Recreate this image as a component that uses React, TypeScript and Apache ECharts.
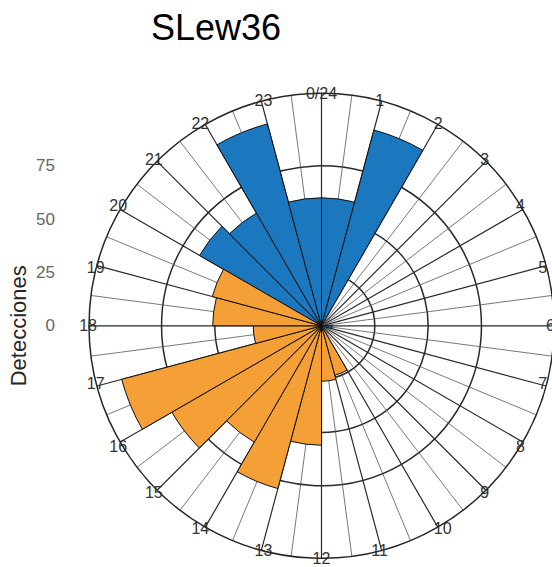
import React, { useEffect, useRef } from 'react';
import * as echarts from 'echarts';

// Hour bins (clockwise from the top), one per hour of the day
const hourCategories = ['0', '1', '2', '3', '4', '5', '6', '7', '8', '9', '10', '11',
  '12', '13', '14', '15', '16', '17', '18', '19', '20', '21', '22', '23'];

// Angle tick labels (at the hour boundaries)
const angleTickLabels = ['0/24', '1', '2', '3', '4', '5', '6', '7', '8', '9', '10', '11',
  '12', '13', '14', '15', '16', '17', '18', '19', '20', '21', '22', '23'];

// Detections per hour: night (blue) and day (orange)
const nightCounts = [60, 95, null, null, null, null, 5, null, null, null, null, null,
  null, null, null, null, null, null, null, null, 66, 61, 98, 60];
const dayCounts = [null, null, null, null, null, null, null, null, null, null, 24, 26,
  56, 79, 63, 81, 97, 32, 51, 53, null, null, null, null];

// Radial tick labels shown on the left scale
const radialTickLabels = ['0', '25', '50', '75'];

const FONT = "'Liberation Sans', Arial, Helvetica, sans-serif";
const CX = 321.5;
const CY = 325.8;
const R = 232.5;
const RMAX = 109;

export default function App() {
  const ref = useRef<HTMLDivElement>(null);

  useEffect(() => {
    if (!ref.current) return;
    const chart = echarts.init(ref.current, null, { renderer: 'svg' });
    const pxPerUnit = R / RMAX;
    const halfSpan = 100 * pxPerUnit;

    chart.setOption({
      animation: false,
      backgroundColor: '#ffffff',
      textStyle: { fontFamily: FONT },
      title: {
        text: 'SLew36',
        left: 146,
        top: 4,
        textStyle: { fontSize: 36, fontWeight: 'normal', color: '#000000', fontFamily: FONT },
      },
      grid: {
        left: 63,
        top: CY - halfSpan,
        height: halfSpan * 2,
        width: 10,
      },
      xAxis: { type: 'value', show: false, min: 0, max: 1 },
      yAxis: {
        type: 'value',
        min: -100,
        max: 100,
        interval: 25,
        axisLine: { show: false },
        axisTick: { show: false },
        splitLine: { show: false },
        axisLabel: {
          margin: 8,
          fontSize: 17,
          color: '#666666',
          fontFamily: FONT,
          formatter: (v: number) => {
            const i = Math.round(v / 25);
            return v >= 0 && i < radialTickLabels.length ? radialTickLabels[i] : '';
          },
        },
        name: 'Detecciones',
        nameLocation: 'middle',
        nameGap: 34,
        nameTextStyle: { fontSize: 22, color: '#262626', fontFamily: FONT },
      },
      polar: [
        { center: [CX, CY], radius: R },
        { center: [CX, CY], radius: R },
      ],
      angleAxis: [
        {
          polarIndex: 0,
          type: 'category',
          data: hourCategories,
          startAngle: 90,
          clockwise: true,
          boundaryGap: true,
          axisLine: { show: false },
          axisTick: { show: false },
          axisLabel: { show: false },
          splitLine: { show: false },
        },
        {
          polarIndex: 1,
          type: 'value',
          min: 0,
          max: 360,
          interval: 15,
          startAngle: 90,
          clockwise: true,
          axisLine: { show: true, lineStyle: { color: '#262626', width: 1.5 } },
          axisTick: { show: false },
          minorTick: { show: false, splitNumber: 2 },
          axisLabel: {
            margin: -8,
            fontSize: 16,
            color: '#333333',
            fontFamily: FONT,
            formatter: (v: number) => {
              const i = Math.round(v / 15);
              return i < angleTickLabels.length ? angleTickLabels[i] : '';
            },
          },
          splitLine: { show: true, lineStyle: { color: '#2a2a2a', width: 1.2 } },
          minorSplitLine: { show: true, lineStyle: { color: '#555555', width: 0.8 } },
        },
      ],
      radiusAxis: [
        {
          polarIndex: 0,
          type: 'value',
          min: 0,
          max: RMAX,
          axisLine: { show: false },
          axisTick: { show: false },
          axisLabel: { show: false },
          splitLine: { show: false },
        },
        {
          polarIndex: 1,
          type: 'value',
          min: 0,
          max: RMAX,
          interval: 25,
          axisLine: { show: false },
          axisTick: { show: false },
          axisLabel: { show: false },
          splitLine: {
            show: true,
            lineStyle: {
              color: ['rgba(0,0,0,0)', '#2a2a2a', '#2a2a2a', '#2a2a2a', 'rgba(0,0,0,0)', 'rgba(0,0,0,0)'],
              width: 1.5,
            },
          },
        },
      ],
      series: [
        {
          type: 'bar',
          name: 'Noche',
          coordinateSystem: 'polar',
          polarIndex: 0,
          data: nightCounts,
          barGap: '-100%',
          barCategoryGap: '0%',
          itemStyle: { color: '#1b78be', borderColor: '#111111', borderWidth: 1 },
        },
        {
          type: 'bar',
          name: 'Día',
          coordinateSystem: 'polar',
          polarIndex: 0,
          data: dayCounts,
          barGap: '-100%',
          barCategoryGap: '0%',
          itemStyle: { color: '#f4a036', borderColor: '#111111', borderWidth: 1 },
        },
      ],
    });

    return () => chart.dispose();
  }, []);

  return (
    <div
      ref={ref}
      style={{ position: 'fixed', left: 0, top: 0, width: 552, height: 567 }}
    />
  );
}
